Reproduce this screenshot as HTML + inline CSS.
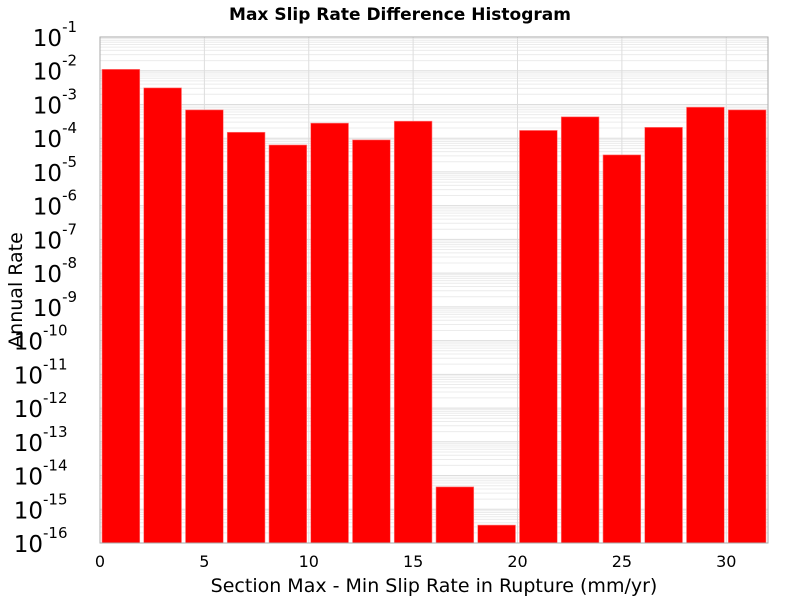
<!DOCTYPE html>
<html><head><meta charset="utf-8"><style>
body{margin:0;background:#fff;}
svg text{font-family:"DejaVu Sans","Liberation Sans",sans-serif;}
</style></head><body>
<svg id="chart" width="800" height="600" xmlns="http://www.w3.org/2000/svg">
<text x="400" y="20" text-anchor="middle" font-size="17" font-weight="bold">Max Slip Rate Difference Histogram</text>
<g id="grid"></g>
<g id="bars"></g>
<rect x="100" y="37" width="668" height="506" fill="none" stroke="#aaa" stroke-width="1"/>
<g id="yticks"></g>
<g id="xticks"></g>
<text x="434" y="592" text-anchor="middle" font-size="19">Section Max - Min Slip Rate in Rupture (mm/yr)</text>
<text transform="translate(22,290) rotate(-90)" text-anchor="middle" font-size="19">Annual Rate</text>
</svg>
<script>
const binStarts=[0,2,4,6,8,10,12,14,16,18,20,22,24,26,28,30];
const rates=[0.011,0.0031,6.9e-4,1.5e-4,6.3e-5,2.8e-4,8.9e-5,3.2e-4,4.6e-15,3.4e-16,1.7e-4,4.3e-4,3.2e-5,2.1e-4,8.3e-4,6.9e-4];
const xTicks=[0,5,10,15,20,25,30];
const yExps=[-1,-2,-3,-4,-5,-6,-7,-8,-9,-10,-11,-12,-13,-14,-15,-16];
const binWidth=2;
const X0=100,X1=768,Y0=37,Y1=543,xMin=0,xMax=32,lMin=-16,lMax=-1;
const NS="http://www.w3.org/2000/svg";
function xs(v){return X0+(v-xMin)/(xMax-xMin)*(X1-X0);}
function ys(v){return Y1-(Math.log10(v)-lMin)/(lMax-lMin)*(Y1-Y0);}
function mk(t,a,p){const e=document.createElementNS(NS,t);for(const k in a)e.setAttribute(k,a[k]);p.appendChild(e);return e;}
const grid=document.getElementById('grid');
for(let e=lMin;e<lMax;e++){for(let m=1;m<10;m++){const y=ys(m*Math.pow(10,e));
const l=mk('line',{x1:X0,x2:X1,y1:y,y2:y,stroke:m==1?'#ddd':'#ececec','stroke-width':1},grid);

}}
xTicks.forEach(v=>{const x=xs(v);
const l=mk('line',{x1:x,x2:x,y1:Y0,y2:Y1,stroke:'#ddd','stroke-width':1},grid);


const t=mk('text',{x:x,y:567,'text-anchor':'middle','font-size':16},document.getElementById('xticks'));


t.textContent=v;});
const bars=document.getElementById('bars');
rates.forEach((r,i)=>{const xa=xs(binStarts[i])+2,xb=xs(binStarts[i]+binWidth)-2,y=ys(r);
const b=mk('rect',{x:xa,y:y,width:xb-xa,height:Y1-y,fill:'#ff0000',stroke:'#ff8080','stroke-width':0.6},bars);

});
const yt=document.getElementById('yticks');
yExps.forEach(e=>{const y=ys(Math.pow(10,e));
const t=mk('text',{x:92,y:y+9,'text-anchor':'end','font-size':23},yt);


t.textContent='10';
const s=mk('tspan',{dy:-14,'font-size':15},t);s.textContent=e;
// align: shift base so superscript ends near axis
t.setAttribute('x',92-s.getComputedTextLength());
t.setAttribute('text-anchor','end');});
</script>
</body></html>
